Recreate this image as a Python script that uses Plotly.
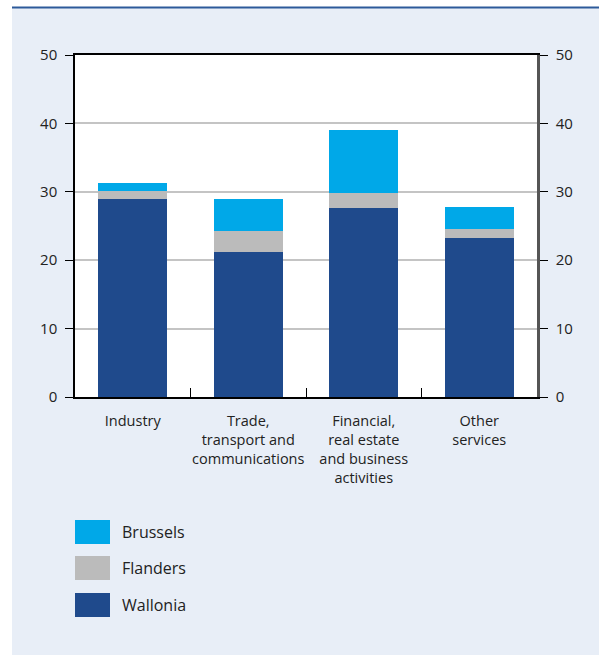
import plotly.graph_objects as go

categories = ["Industry", "Trade,<br>transport and<br>communications",
              "Financial,<br>real estate<br>and business<br>activities", "Other<br>services"]
wallonia = [29.0, 21.2, 27.6, 23.2]
flanders = [1.1, 3.1, 2.2, 1.4]
brussels = [1.2, 4.7, 9.2, 3.2]
series_names = ["Brussels", "Flanders", "Wallonia"]
colors = {"Wallonia": "#1f4a8c", "Flanders": "#bbbbbb", "Brussels": "#00a8e8"}
yticks = [0, 10, 20, 30, 40, 50]

W, H = 599, 655
L, R, T, B = 75, 537, 55, 397

fig = go.Figure()
for name, vals in [("Wallonia", wallonia), ("Flanders", flanders), ("Brussels", brussels)]:
    fig.add_trace(go.Bar(x=categories, y=vals, name=name, marker_color=colors[name],
                         marker_line_width=0, width=0.6, showlegend=False))
# invisible trace to anchor right axis
fig.add_trace(go.Scatter(x=[categories[0]], y=[0], yaxis="y2", mode="markers",
                         marker=dict(opacity=0), showlegend=False, hoverinfo="skip"))

shapes = [
    dict(type="rect", xref="paper", yref="paper", x0=(12 - L) / (R - L), x1=(W - L) / (R - L),
         y0=(B - H) / (B - T), y1=(B - 8) / (B - T), fillcolor="#e8eef7", line_width=0, layer="below"),
    dict(type="line", xref="paper", yref="paper", x0=(12 - L) / (R - L), x1=(W - L) / (R - L),
         y0=(B - 7.5) / (B - T), y1=(B - 7.5) / (B - T), line=dict(color="#2d5a9a", width=2)),
    dict(type="rect", xref="paper", yref="paper", x0=0, x1=1, y0=0, y1=1,
         fillcolor="white", line_width=0, layer="below"),
]
annotations = []
legend_y = [532, 568, 605]
for name, yc in zip(series_names, legend_y):
    shapes.append(dict(type="rect", xref="paper", yref="paper",
                       x0=(75 - L) / (R - L), x1=(110 - L) / (R - L),
                       y0=(B - (yc + 12)) / (B - T), y1=(B - (yc - 12)) / (B - T),
                       fillcolor=colors[name], line_width=0))
    annotations.append(dict(xref="paper", yref="paper", x=(120 - L) / (R - L), y=(B - yc) / (B - T),
                            text=name, showarrow=False, xanchor="left", yanchor="middle",
                            font=dict(size=16, color="#222")))

fig.update_layout(
    width=W, height=H, margin=dict(l=L, r=W - R, t=T, b=H - B),
    paper_bgcolor="white", plot_bgcolor="rgba(0,0,0,0)",
    barmode="stack", bargap=0.4,
    font=dict(family="Open Sans, Noto Sans, sans-serif", size=14, color="#222"),
    shapes=shapes, annotations=annotations,
    xaxis=dict(tickson="boundaries", ticks="inside", ticklen=9, tickcolor="black",
               tickangle=0, ticklabelstandoff=10,
               showline=True, linecolor="black", linewidth=1.5, mirror=True,
               showgrid=False, tickfont=dict(size=14.5, color="#222"), fixedrange=True),
    yaxis=dict(range=[0, 50], tickvals=yticks, ticks="outside", ticklen=8, tickcolor="black",
               ticklabelstandoff=5,
               showline=True, linecolor="black", linewidth=1.5, showgrid=True,
               gridcolor="#c4c4c4", gridwidth=1.5, zeroline=False,
               tickfont=dict(size=15, color="#222")),
    yaxis2=dict(range=[0, 50], tickvals=yticks, overlaying="y", side="right",
                ticks="outside", ticklen=8, tickcolor="black", ticklabelstandoff=5,
                showline=True, linecolor="#555555", linewidth=2.5, showgrid=False,
                zeroline=False, tickfont=dict(size=15, color="#222")),
)
fig.write_html("out.html")
